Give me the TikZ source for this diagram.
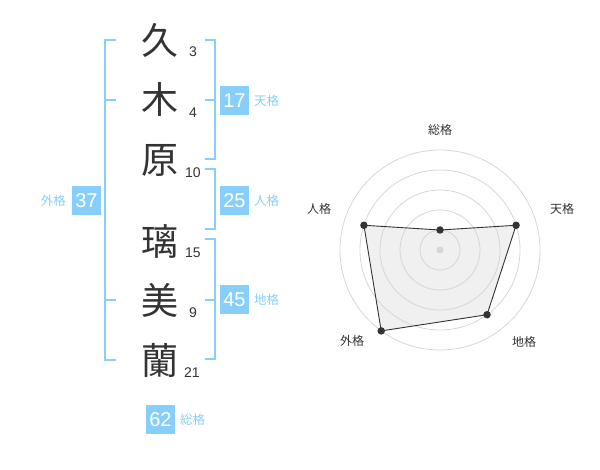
\documentclass[tikz,border=0pt]{standalone}
\usepackage{fontspec}
\setmainfont{Liberation Sans}
\newfontfamily\jpfont{Noto Sans CJK JP}
\definecolor{sky}{HTML}{87CEFA}
\definecolor{ink}{HTML}{333333}
\definecolor{ring}{HTML}{D6D6D6}
\definecolor{area}{HTML}{F0F0F0}
\tikzset{
  kanji/.style={font=\jpfont\fontsize{37}{37}\selectfont, text=ink, inner sep=0pt},
  strokes/.style={font=\fontsize{14}{14}\selectfont, text=ink, inner sep=0pt},
  bracket/.style={draw=sky, line width=2pt},
  scorebox/.style={fill=sky, text=white, minimum width=29pt, minimum height=29pt, inner sep=0pt, font=\fontsize{20}{20}\selectfont},
  scorelabel/.style={text=sky, font=\jpfont\fontsize{12.5}{12.5}\selectfont, inner sep=0pt},
  axislabel/.style={text=ink, font=\jpfont\fontsize{12}{12}\selectfont, inner sep=0pt},
  datadot/.style={circle, fill=ink, inner sep=0pt, minimum size=7.5pt},
}
\begin{document}
\begin{tikzpicture}[x=1pt, y=-1pt]
\useasboundingbox (0,0) rectangle (600,470);
% kanji
\node[kanji] (k1) at (160,40) {久};
\node[kanji] (k2) at (160,99) {木};
\node[kanji] (k3) at (160,160) {原};
\node[kanji] (k4) at (160,241) {璃};
\node[kanji] (k5) at (160,300) {美};
\node[kanji] (k6) at (160,360) {蘭};
% stroke counts
\node[strokes] (s1) at (193,52) {3};
\node[strokes] (s2) at (193,113) {4};
\node[strokes] (s3) at (193,172.5) {10};
\node[strokes] (s4) at (193,252.5) {15};
\node[strokes] (s5) at (193,312.5) {9};
\node[strokes] (s6) at (192,372.5) {21};
% outer bracket
\draw[bracket] (116,40) -- (105,40) -- (105,360) -- (116,360);
\draw[bracket] (105,100) -- (116,100);
\draw[bracket] (105,300) -- (116,300);
% right brackets
\draw[bracket] (205,40) -- (215,40) -- (215,159.5) -- (205,159.5);
\draw[bracket] (205,100) -- (215,100);
\draw[bracket] (205,169.5) -- (215,169.5) -- (215,229.5) -- (205,229.5);
\draw[bracket] (205,239.5) -- (215,239.5) -- (215,359.5) -- (205,359.5);
\draw[bracket] (205,300) -- (215,300);
% score boxes
\node[scorebox] (ten) at (234.5,100.5) {17};
\node[scorelabel, anchor=west] (tenl) at (254,100.5) {天格};
\node[scorebox] (jin) at (234.5,200.5) {25};
\node[scorelabel, anchor=west] (jinl) at (254,200.5) {人格};
\node[scorebox] (chi) at (234.5,300) {45};
\node[scorelabel, anchor=west] (chil) at (254,300) {地格};
\node[scorebox] (gai) at (86.5,200.5) {37};
\node[scorelabel, anchor=east] (gail) at (66,200.5) {外格};
\node[scorebox] (sou) at (160.5,419.5) {62};
\node[scorelabel, anchor=west] (soul) at (180,420) {総格};
% radar chart
\begin{scope}[shift={(440,250)}]
  \coordinate (pA) at (-90:20);
  \coordinate (pB) at (-18:80);
  \coordinate (pC) at (54:80);
  \coordinate (pD) at (126:100);
  \coordinate (pE) at (198:80);
  \fill[area] (pA) -- (pB) -- (pC) -- (pD) -- (pE) -- cycle;
  \foreach \r in {20,40,60,80,100} \draw[ring, line width=0.8pt] (0,0) circle[radius=\r];
  \draw[ink, line width=0.9pt] (pA) -- (pB) -- (pC) -- (pD) -- (pE) -- cycle;
  \node[circle, fill=ring, inner sep=0pt, minimum size=7pt] (ctr) at (0,0) {};
  \node[datadot] (dA) at (pA) {};
  \node[datadot] (dB) at (pB) {};
  \node[datadot] (dC) at (pC) {};
  \node[datadot] (dD) at (pD) {};
  \node[datadot] (dE) at (pE) {};
  \node[axislabel] (lA) at (0,-120) {総格};
  \node[axislabel] (lB) at (122,-41.5) {天格};
  \node[axislabel] (lC) at (84,92) {地格};
  \node[axislabel] (lD) at (-88,91) {外格};
  \node[axislabel] (lE) at (-121,-41.5) {人格};
\end{scope}
\end{tikzpicture}
\end{document}
